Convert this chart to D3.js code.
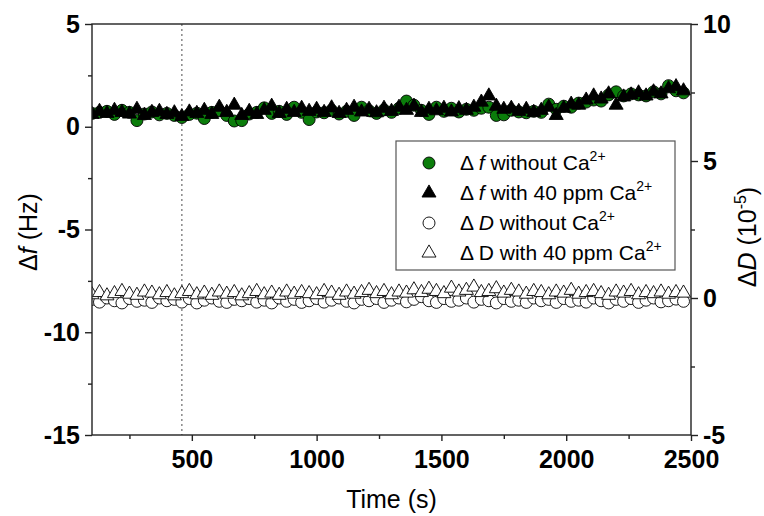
<!DOCTYPE html>
<html><head><meta charset="utf-8">
<script src="https://cdn.jsdelivr.net/npm/d3@7"></script>
<style>body{margin:0;background:#fff} text{font-family:"Liberation Sans",Arial,Helvetica,sans-serif}</style>
</head><body><svg id="c" width="764" height="516"></svg>
<script>
const time = [100,130,160,190,220,250,280,310,340,370,400,430,460,490,520,550,580,610,640,670,
  700,730,760,790,820,850,880,910,940,970,1000,1030,1060,1090,1120,1150,1180,1210,1240,1270,
  1300,1330,1360,1390,1420,1450,1480,1510,1540,1570,1600,1630,1660,1690,1720,1750,1780,1810,1840,1870,
  1900,1930,1960,1990,2020,2050,2080,2110,2140,2170,2200,2230,2260,2290,2320,2350,2380,2410,2440,2470];
const dfWithout = [0.65,0.70,0.75,0.60,0.80,0.70,0.30,0.62,0.72,0.58,
  0.65,0.55,0.45,0.60,0.66,0.40,0.70,0.78,0.55,0.28,
  0.30,0.62,0.70,0.92,0.65,0.75,0.60,0.95,0.70,0.35,
  0.72,0.68,0.80,0.62,0.75,0.55,0.95,0.78,0.65,0.82,
  0.70,0.90,1.25,1.05,0.80,0.60,0.95,0.75,0.90,0.72,
  0.85,0.80,0.90,0.95,0.55,0.58,0.80,0.72,0.68,0.75,
  0.70,1.10,0.85,1.00,0.95,1.15,1.20,1.30,1.25,1.55,
  1.70,1.50,1.60,1.55,1.50,1.70,1.60,2.00,1.75,1.65];
const dfWith = [0.60,0.75,0.65,0.80,0.70,0.62,0.85,0.55,0.70,0.75,
  0.60,0.68,0.50,0.72,0.65,0.80,0.60,0.95,0.70,1.05,
  0.55,0.75,0.60,0.80,1.00,0.65,0.85,0.70,0.90,0.75,
  0.85,0.70,0.92,0.65,0.80,0.95,0.72,0.85,0.68,0.90,
  0.75,0.95,0.80,1.00,0.70,0.85,0.78,0.90,0.72,0.88,
  0.80,0.95,1.20,1.50,1.00,0.85,0.90,0.75,0.85,0.70,
  0.80,0.95,0.55,0.90,1.10,1.05,1.30,1.50,1.35,1.60,
  1.05,1.45,1.55,1.65,1.50,1.70,1.60,1.85,1.95,1.75];
const dDWithout = [-0.05,-0.15,0.00,-0.10,-0.18,-0.02,-0.12,-0.08,-0.16,0.00,
  -0.10,-0.05,-0.15,-0.02,-0.18,-0.08,0.00,-0.12,-0.16,-0.05,
  -0.10,-0.02,-0.15,-0.08,-0.18,0.00,-0.12,-0.05,-0.16,-0.10,
  -0.02,-0.15,-0.08,0.00,-0.12,-0.18,-0.05,-0.10,-0.02,-0.16,
  -0.08,0.00,-0.14,-0.05,0.05,-0.10,-0.16,-0.02,-0.12,-0.08,
  0.00,-0.15,-0.05,-0.10,-0.18,-0.02,-0.12,-0.08,-0.16,0.00,
  -0.10,-0.05,-0.16,-0.02,-0.12,-0.08,-0.15,0.00,-0.10,-0.18,
  -0.05,-0.12,-0.02,-0.16,-0.08,0.00,-0.14,-0.10,-0.04,-0.12];
const dDWith = [0.12,0.20,0.08,0.16,0.24,0.14,0.10,0.22,0.18,0.12,
  0.20,0.08,0.16,0.24,0.12,0.18,0.10,0.22,0.14,0.20,
  0.08,0.16,0.24,0.12,0.18,0.10,0.22,0.14,0.20,0.16,
  0.12,0.24,0.18,0.10,0.22,0.14,0.20,0.28,0.16,0.24,
  0.12,0.22,0.18,0.30,0.20,0.32,0.24,0.16,0.36,0.22,
  0.28,0.40,0.20,0.24,0.34,0.18,0.28,0.22,0.14,0.24,
  0.20,0.12,0.22,0.18,0.28,0.14,0.20,0.24,0.16,0.10,
  0.22,0.18,0.24,0.12,0.20,0.16,0.22,0.14,0.20,0.18];
const xTicks = [500,1000,1500,2000,2500];
const xMinor = [250,750,1250,1750,2250];
const yLTicks = [-15,-10,-5,0,5];
const yLMinor = [-12.5,-7.5,-2.5,2.5];
const yRTicks = [-5,0,5,10];
const yRMinor = [-2.5,2.5,7.5];
const markerTime = 460;

const L=92, R=691, T=24, B=435;
const svg = d3.select("#c");
const x = d3.scaleLinear().domain([100,2500]).range([L,R]);
const yL = d3.scaleLinear().domain([-15,5]).range([B,T]);
const yR = d3.scaleLinear().domain([-5,10]).range([B,T]);
const fmt = d => String(d);

svg.append("defs").append("clipPath").attr("id","clip")
  .append("rect").attr("x",L).attr("y",T).attr("width",R-L).attr("height",B-T);

svg.append("line").attr("x1",x(markerTime)).attr("x2",x(markerTime)).attr("y1",T).attr("y2",B)
  .attr("stroke","#777").attr("stroke-width",1.3).attr("stroke-dasharray","2,3");

const plot = svg.append("g").attr("clip-path","url(#clip)");
const tri = d3.symbol().type(d3.symbolTriangle).size(85);

plot.selectAll(".dc").data(time).join("circle").attr("class","dc")
  .attr("cx",(d)=>x(d)).attr("cy",(d,i)=>yR(dDWithout[i])).attr("r",6)
  .attr("fill","#fff").attr("stroke","#000").attr("stroke-width",0.9);
plot.selectAll(".dt").data(time).join("path").attr("class","dt")
  .attr("d",tri).attr("transform",(d,i)=>`translate(${x(d)},${yR(dDWith[i])})`)
  .attr("fill","#fff").attr("stroke","#000").attr("stroke-width",0.9);
plot.selectAll(".fc").data(time).join("circle").attr("class","fc")
  .attr("cx",(d)=>x(d)).attr("cy",(d,i)=>yL(dfWithout[i])).attr("r",6)
  .attr("fill","#0b7d0b").attr("stroke","#000").attr("stroke-width",0.9);
plot.selectAll(".ft").data(time).join("path").attr("class","ft")
  .attr("d",tri).attr("transform",(d,i)=>`translate(${x(d)},${yL(dfWith[i])})`)
  .attr("fill","#000").attr("stroke","#000").attr("stroke-width",0.9);

svg.append("rect").attr("x",L).attr("y",T).attr("width",R-L).attr("height",B-T)
  .attr("fill","none").attr("stroke","#222").attr("stroke-width",1.4);

function styleAxis(g){
  g.select(".domain").remove();
  g.selectAll("line").attr("stroke","#222").attr("stroke-width",1.4);
  g.selectAll("text").attr("font-size",25).attr("font-weight","bold").attr("fill","#000")
   .attr("font-family","'Liberation Sans',Arial,sans-serif");
}
svg.append("g").attr("transform",`translate(${L},0)`)
  .call(d3.axisLeft(yL).tickValues(yLTicks).tickFormat(fmt).tickSize(7).tickPadding(5).tickSizeOuter(0)).call(styleAxis);
svg.append("g").attr("transform",`translate(${L},0)`)
  .call(d3.axisLeft(yL).tickValues(yLMinor).tickSize(4).tickFormat("").tickSizeOuter(0)).call(styleAxis);
svg.append("g").attr("transform",`translate(${R},0)`)
  .call(d3.axisRight(yR).tickValues(yRTicks).tickFormat(fmt).tickSize(7).tickPadding(5).tickSizeOuter(0)).call(styleAxis);
svg.append("g").attr("transform",`translate(${R},0)`)
  .call(d3.axisRight(yR).tickValues(yRMinor).tickSize(4).tickFormat("").tickSizeOuter(0)).call(styleAxis);
svg.append("g").attr("transform",`translate(0,${B})`)
  .call(d3.axisBottom(x).tickValues(xTicks).tickFormat(fmt).tickSize(6).tickPadding(9).tickSizeOuter(0)).call(styleAxis);
svg.append("g").attr("transform",`translate(0,${B})`)
  .call(d3.axisBottom(x).tickValues(xMinor).tickSize(4).tickFormat("").tickSizeOuter(0)).call(styleAxis);

svg.append("text").attr("x",(L+R)/2).attr("y",508).attr("text-anchor","middle")
  .attr("font-size",25).text("Time (s)");
const lt = svg.append("text").attr("transform",`translate(37,232) rotate(-90)`)
  .attr("text-anchor","middle").attr("font-size",25);
lt.append("tspan").text("\u0394");
lt.append("tspan").attr("font-style","italic").text("f");
lt.append("tspan").text(" (Hz)");
const rt = svg.append("text").attr("transform",`translate(756,237) rotate(-90)`)
  .attr("text-anchor","middle").attr("font-size",25);
rt.append("tspan").text("\u0394");
rt.append("tspan").attr("font-style","italic").text("D");
rt.append("tspan").text(" (10");
rt.append("tspan").attr("font-size",16).attr("dy",-10).text("-5");
rt.append("tspan").attr("dy",10).text(")");

const lg = svg.append("g");
lg.append("rect").attr("x",396).attr("y",141).attr("width",279).attr("height",129)
  .attr("fill","#fff").attr("stroke","#555").attr("stroke-width",1.2);
const legendItems = [
  {sym:"circle", fill:"#0b7d0b", pre:"\u0394 ", it:"f", post:" without Ca"},
  {sym:"tri", fill:"#000", pre:"\u0394 ", it:"f", post:" with 40 ppm Ca"},
  {sym:"circle", fill:"#fff", pre:"\u0394 ", it:"D", post:" without Ca"},
  {sym:"tri", fill:"#fff", pre:"\u0394 D", it:"", post:" with 40 ppm Ca"}
];
legendItems.forEach((it,i)=>{
  const cy = 163 + i*30;
  if(it.sym==="circle") lg.append("circle").attr("cx",429).attr("cy",cy).attr("r",6)
    .attr("fill",it.fill).attr("stroke","#000").attr("stroke-width",0.9);
  else lg.append("path").attr("d",tri).attr("transform",`translate(429,${cy})`)
    .attr("fill",it.fill).attr("stroke","#000").attr("stroke-width",0.9);
  const t = lg.append("text").attr("x",460).attr("y",cy+7).attr("font-size",21);
  t.append("tspan").text(it.pre);
  if(it.it) t.append("tspan").attr("font-style","italic").text(it.it);
  t.append("tspan").text(it.post);
  t.append("tspan").attr("font-size",14).attr("dy",-9).text("2+");
});
</script></body></html>
